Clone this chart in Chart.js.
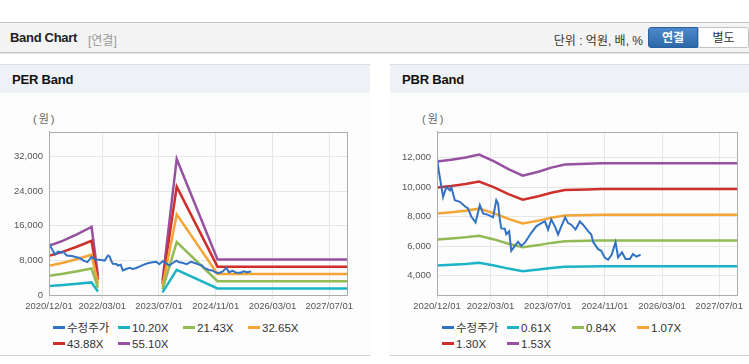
<!DOCTYPE html>
<html>
<head>
<meta charset="utf-8">
<script src="https://cdn.jsdelivr.net/npm/chart.js@4.4.0/dist/chart.umd.min.js"></script>
<style>
  body { margin: 0; width: 749px; height: 364px; background: #fff; position: relative; overflow: hidden;
         font-family: "Liberation Sans", "Noto Sans CJK KR", sans-serif; }
  .topbar { position: absolute; left: 0; top: 22px; width: 749px; height: 29px; background: #f4f4f4;
            border-top: 1px solid #c4c4c4; border-bottom: 1px solid #c8c8c8; box-shadow: 0 1px 1px #e4e4e4; }
  .topbar .ttl { position: absolute; left: 10px; top: 7px; font-size: 13px; font-weight: bold; color: #222; letter-spacing: -0.3px; }
  .topbar .sub { position: absolute; left: 88px; top: 8px; font-size: 12px; color: #999; }
  .topbar .unit { position: absolute; right: 106px; top: 8px; font-size: 12px; color: #333; }
  .btn { position: absolute; top: 4px; height: 21px; line-height: 21px; text-align: center; font-size: 12px; }
  .btn.on { left: 648px; width: 50px; background: linear-gradient(#4d89ca, #2d68ab); color: #fff; font-weight: bold;
            border-radius: 3px 0 0 3px; border: 1px solid #2a5f9c; box-sizing: border-box; }
  .btn.off { left: 698px; width: 51px; background: #fff; color: #333; border: 1px solid #c2c2c2; box-sizing: border-box; border-radius: 0 3px 3px 0; }
  .panel { position: absolute; top: 64px; height: 290px; border-top: 1px solid #dcdcdc; border-bottom: 1px solid #cfcfcf; background: #fdfdfd; }
  .panel .head { height: 28px; background: #eef2f7; }
  .panel .head span { position: absolute; left: 12px; top: 7px; font-size: 13px; font-weight: bold; color: #111; letter-spacing: -0.2px; }
  .unitlbl { position: absolute; top: 110px; font-size: 11px; color: #666; letter-spacing: 2px; }
  canvas { position: absolute; top: 120px; }
  .legend { position: absolute; top: 321px; width: 280px; font-size: 11.5px; color: #333; }
  .legend .item { position: absolute; height: 14px; line-height: 14px; white-space: nowrap; }
  .legend .mk { display: inline-block; width: 12px; height: 3px; vertical-align: middle; margin-right: 2px; position: relative; top: -1px; }
</style>
</head>
<body>
<div class="topbar">
  <span class="ttl">Band Chart</span><span class="sub">[연결]</span>
  <span class="unit">단위 : 억원, 배, %</span>
  <div class="btn on">연결</div><div class="btn off">별도</div>
</div>

<div class="panel" style="left:0;width:370px;"><div class="head"><span>PER Band</span></div></div>
<div class="panel" style="left:390px;width:359px;"><div class="head"><span>PBR Band</span></div></div>

<div class="unitlbl" style="left:33px;">(원)</div>
<div class="unitlbl" style="left:422px;">(원)</div>

<canvas id="perChart" width="360" height="200" style="left:0;"></canvas>
<canvas id="pbrChart" width="359" height="200" style="left:390px;"></canvas>

<div class="legend" id="perLegend" style="left:53px;"></div>
<div class="legend" id="pbrLegend" style="left:442px;"></div>

<script>
// x axis is in months counted from 2020/12/01
const xTickMonths = [0, 15, 31, 47, 63, 79];
const xTickLabels = ['2020/12/01', '2022/03/01', '2023/07/01', '2024/11/01', '2026/03/01', '2027/07/01'];

const seriesColors = ['#3272c4', '#1db3c6', '#92ba55', '#f4a535', '#cf2f2a', '#9652a0'];

// 수정주가 (same in both charts)
const priceMonths = [0, 0.5, 1.7, 2.6, 3.6, 4, 5, 6.4, 7.8, 8.7, 9.6, 10.8, 12, 12.9, 14.3, 15.7, 16.6, 17.1, 17.6, 18, 19, 19.4, 20.2,
  20.8, 21.8, 22.7, 23.6, 24.6, 25.5, 26.4, 27.8, 29.2, 30.2, 31.1, 32, 33, 33.9, 34.8, 35.9, 36.7, 37.6, 38.8, 40, 40.9,
  42.3, 43.2, 43.7, 45.1, 46, 47, 47.9, 48.9, 50, 50.7, 51.8, 52.8, 54, 54.9, 55.8, 57];
const priceValues = [12000, 11100, 9330, 10000, 9780, 10000, 9110, 9000, 8700, 8560, 8000, 7600, 8780, 8220, 8120, 7950, 9110, 8890, 7780, 7200, 7180, 6800, 7000,
  5680, 6010, 6280, 6010, 6230, 6560, 6900, 7340, 7560, 7670, 7120, 7800, 7340, 6790, 7340, 7950, 7560, 7450, 7120, 7670, 7450,
  7010, 6790, 6280, 5790, 5680, 5200, 5080, 5400, 6270, 5240, 5570, 5130, 5130, 5460, 5280, 5410];

// PER band
const perLabels = ['수정주가', '10.20X', '21.43X', '32.65X', '43.88X', '55.10X'];
const perMonths = [0, 4, 8, 12, 13.8, 20, 32, 36, 47.5, 84];
const per1020 = [2101, 2326, 2601, 2907, 816, null, 612, 5814, 1520, 1520];
const per2143 = [4415, 4886, 5465, 6108, 1714, null, 1286, 12215, 3193, 3193];
const per3265 = [6726, 7444, 8326, 9305, 2612, null, 1959, 18611, 4865, 4865];
const per4388 = [9039, 10005, 11189, 12506, 3510, null, 2633, 25012, 6538, 6538];
const per5510 = [11351, 12563, 14051, 15704, 4408, null, 3306, 31407, 8210, 8210];
const perYTicks = [0, 8000, 16000, 24000, 32000];

// PBR band
const pbrLabels = ['수정주가', '0.61X', '0.84X', '1.07X', '1.30X', '1.53X'];
const pbrMonths = [0, 4, 8, 11.8, 16, 20, 24, 28.4, 32, 35.8, 42, 46, 84];
const pbr061 = [4679, 4728, 4789, 4868, 4685, 4471, 4294, 4404, 4514, 4599, 4618, 4630, 4630];
const pbr084 = [6443, 6510, 6594, 6703, 6451, 6157, 5914, 6065, 6216, 6334, 6359, 6376, 6376];
const pbr107 = [8207, 8293, 8400, 8539, 8218, 7843, 7533, 7725, 7918, 8068, 8100, 8121, 8121];
const pbr130 = [9971, 10075, 10205, 10374, 9984, 9529, 9152, 9386, 9620, 9802, 9841, 9867, 9867];
const pbr153 = [11735, 11858, 12011, 12209, 11750, 11215, 10771, 11047, 11322, 11536, 11582, 11613, 11613];
const pbrYTicks = [4000, 6000, 8000, 10000, 12000];

Chart.defaults.font.family = 'Liberation Sans';
Chart.defaults.font.size = 9.5;
Chart.defaults.color = '#555';
Chart.defaults.animation = false;

function toPoints(xs, ys){
    return xs.map((x, i) => ({x: x, y: ys[i]}));
}

const frame = {
    id: 'frame',
    afterDraw(chart){
        const a = chart.chartArea;
        const ctx = chart.ctx;
        ctx.save();
        ctx.strokeStyle = '#acacac';
        ctx.lineWidth = 1;
        ctx.strokeRect(Math.round(a.left) + 0.5, Math.round(a.top) + 0.5, Math.round(a.right - a.left), Math.round(a.bottom - a.top));
        ctx.restore();
    }
};

function makeChart(id, labels, bandMonths, bands, yTicks, yMin, yMax, yWidth, padRight){
    const datasets = [{
        label: labels[0],
        data: toPoints(priceMonths, priceValues),
        borderColor: seriesColors[0],
        borderWidth: 2
    }];
    bands.forEach((b, i) => {
        datasets.push({
            label: labels[i + 1],
            data: toPoints(bandMonths, b),
            borderColor: seriesColors[i + 1],
            borderWidth: 2.5
        });
    });

    const config = {
        type: 'line',
        data: { datasets },
        options: {
            responsive: false,
            layout: { padding: { top: 8, right: padRight, left: 0, bottom: 0 } },
            elements: { point: { radius: 0 }, line: { tension: 0 } },
            plugins: { legend: { display: false }, tooltip: { enabled: false } },
            scales: {
                x: {
                    type: 'linear', min: 0, max: 84,
                    afterBuildTicks: s => { s.ticks = xTickMonths.map(v => ({value: v})); },
                    afterFit: s => { s.height = 25; },
                    grid: { color: '#e6e6e6', tickLength: 4 },
                    border: { color: '#acacac' },
                    ticks: {
                        autoSkip: false, maxRotation: 0, padding: 2,
                        callback: v => xTickLabels[xTickMonths.indexOf(v)]
                    }
                },
                y: {
                    min: yMin, max: yMax,
                    afterBuildTicks: s => { s.ticks = yTicks.map(v => ({value: v})); },
                    afterFit: s => { s.width = yWidth; },
                    grid: { color: '#e6e6e6', drawTicks: false },
                    border: { color: '#acacac' },
                    ticks: { padding: 6, callback: v => v.toLocaleString('en-US') }
                }
            }
        },
        plugins: [frame]
    };

    return new Chart(document.getElementById(id).getContext('2d'), config);
}

function makeLegend(id, labels){
    const box = document.getElementById(id);
    let html = '';
    labels.forEach((lab, i) => {
        const col = i % 4, row = Math.floor(i / 4);
        html += `<div class="item" style="left:${col * 65}px;top:${row * 16}px;">` +
                `<span class="mk" style="background:${seriesColors[i]}"></span>${lab}</div>`;
    });
    box.innerHTML = html;
}

makeChart('perChart', perLabels, perMonths, [per1020, per2143, per3265, per4388, per5510], perYTicks, 0, 37700, 49, 13);
makeChart('pbrChart', pbrLabels, pbrMonths, [pbr061, pbr084, pbr107, pbr130, pbr153], pbrYTicks, 2680, 13760, 47, 12);
makeLegend('perLegend', perLabels);
makeLegend('pbrLegend', pbrLabels);
</script>
</body>
</html>
